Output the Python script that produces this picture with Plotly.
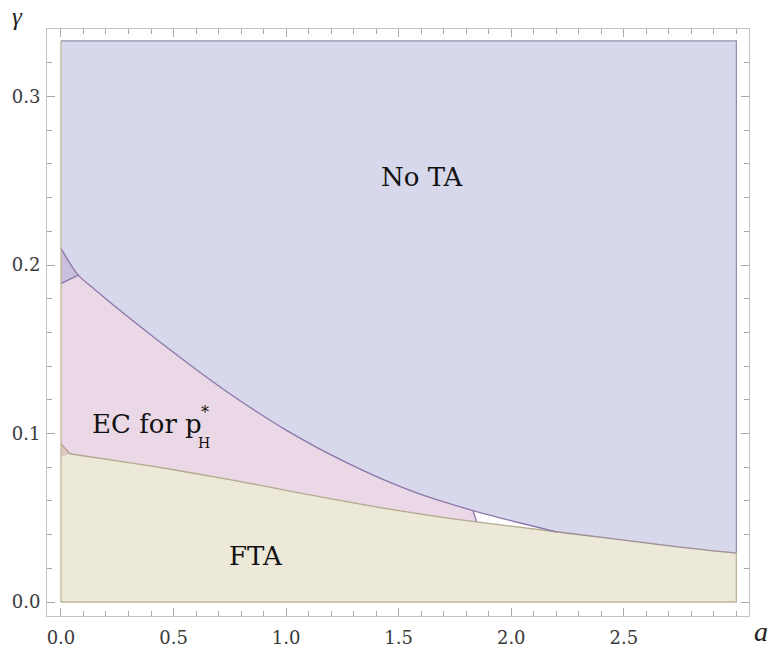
import numpy as np
import plotly.graph_objects as go

# ---- data ----
# lower boundary curve (FTA region upper edge), starting at the a = 0 corner
a_fta = [0.0, 0.04, 0.25, 0.5, 0.75, 1.0, 1.25, 1.5, 1.75, 1.846, 2.0, 2.2, 2.5, 2.75, 3.0]
g_fta = [0.086, 0.088, 0.0838, 0.0785, 0.0727, 0.0663, 0.0600, 0.0542, 0.0492, 0.0476, 0.0450, 0.0417, 0.0367, 0.0326, 0.0290]

# upper boundary curve (No TA region lower edge)
a_up = [0.0, 0.077, 0.15, 0.29, 0.44, 0.59, 0.74, 0.88, 1.0, 1.14, 1.28, 1.43, 1.58, 1.73, 1.83, 1.95, 2.05, 2.2]
g_up = [0.210, 0.194, 0.1855, 0.170, 0.1543, 0.1390, 0.1245, 0.1120, 0.1020, 0.0915, 0.0820, 0.0728, 0.0648, 0.0582, 0.0543, 0.0500, 0.0466, 0.0417]

# small corner regions at a = 0
notch_top_g = [0.210, 0.189]
notch_bot_g = [0.094, 0.086]

a_max = 3.0
g_max = 0.333
a_ec_end = 1.83      # end of EC region along upper curve
a_ec_end_low = 1.846 # end of EC region along lower curve
a_meet = 2.2         # curves merge

x_ticks = [0.0, 0.5, 1.0, 1.5, 2.0, 2.5]
x_tick_text = ["0.0", "0.5", "1.0", "1.5", "2.0", "2.5"]
y_ticks = [0.0, 0.1, 0.2, 0.3]
y_tick_text = ["0.0", "0.1", "0.2", "0.3"]

labels = ["No TA", "FTA"]

# ---- styles ----
C_NOTA = "#d7d8eb"
C_EC = "#ead8e7"
C_FTA = "#ece9d9"
C_NOTCH_TOP = "#c9bedb"
C_NOTCH_BOT = "#dcc9c2"
L_UP = "#8b76a8"
L_LOW = "#b3a98b"
L_EDGE_BLUE = "#9090b4"
L_EDGE_OLIVE = "#bfb796"
SM = 1.0

A_lo = np.array(a_fta)
G_lo = np.array(g_fta)
A_up = np.array(a_up)
G_up = np.array(g_up)

fig = go.Figure()


def trace(xs, ys, color, width=1.3, shape="spline", fill=None, fillcolor=None, opacity=1.0):
    fig.add_trace(go.Scatter(x=list(xs), y=list(ys), mode="lines",
                             line=dict(width=width, color=color, shape=shape,
                                       smoothing=SM if shape == "spline" else None),
                             fill=fill, fillcolor=fillcolor, opacity=opacity,
                             hoverinfo="skip", showlegend=False))


# FTA region: lower curve filled down to zero (left corner point on a = 0)
trace(A_lo, G_lo, "rgba(0,0,0,0)", width=0, fill="tozeroy", fillcolor=C_FTA)

# No TA region: between top edge and combined boundary
m = A_lo > a_meet
bx = list(A_up) + list(A_lo[m])
by = list(G_up) + list(G_lo[m])
trace([0.0, a_max], [g_max, g_max], "rgba(0,0,0,0)", width=0, shape="linear")
trace(bx, by, "rgba(0,0,0,0)", width=0, fill="tonexty", fillcolor=C_NOTA)

# EC region: between lower segment and upper segment
ml = A_lo <= a_ec_end_low
mu = A_up <= a_ec_end
lx = [0.0] + list(A_lo[ml][1:])
ly = [notch_bot_g[0]] + list(G_lo[ml][1:])
ux = [0.0] + list(A_up[mu][1:])
uy = [notch_top_g[1]] + list(G_up[mu][1:])
trace(lx, ly, "rgba(0,0,0,0)", width=0)
trace(ux, uy, "rgba(0,0,0,0)", width=0, fill="tonexty", fillcolor=C_EC)

# corner notches
trace([0.0, A_up[1], 0.0, 0.0], [notch_top_g[0], G_up[1], notch_top_g[1], notch_top_g[0]],
      "rgba(0,0,0,0)", width=0, shape="linear", fill="toself", fillcolor=C_NOTCH_TOP)
trace([0.0, A_lo[1], 0.0, 0.0], [notch_bot_g[0], G_lo[1], notch_bot_g[1], notch_bot_g[0]],
      "rgba(0,0,0,0)", width=0, shape="linear", fill="toself", fillcolor=C_NOTCH_BOT)

# boundary lines
trace(A_lo[1:], G_lo[1:], L_LOW)
trace(A_up, G_up, L_UP)
trace(A_lo[A_lo >= a_meet], G_lo[A_lo >= a_meet], L_UP, opacity=0.45)
trace([0.0, A_up[1]], [notch_top_g[1], G_up[1]], L_UP, shape="linear")
trace([0.0, A_lo[1]], [notch_bot_g[0], G_lo[1]], "#b89c90", shape="linear")
trace([a_ec_end, a_ec_end_low],
      [float(np.interp(a_ec_end, A_up, G_up)), float(np.interp(a_ec_end_low, A_lo, G_lo))],
      L_UP, shape="linear")
# outer edges
trace([0.0, a_max, a_max], [g_max, g_max, G_lo[-1]], L_EDGE_BLUE, shape="linear")
trace([a_max, a_max, 0.0, 0.0], [G_lo[-1], 0.0, 0.0, g_max], L_EDGE_OLIVE, shape="linear")

# ---- text ----
TXT = dict(family="DejaVu Serif", size=26, color="#111111")
fig.add_annotation(x=1.608, y=0.2525, text=labels[0], showarrow=False, font=TXT)
fig.add_annotation(x=0.865, y=0.0275, text=labels[1], showarrow=False, font=TXT)
fig.add_annotation(x=0.128, y=0.1055, text="EC for p", showarrow=False, font=TXT,
                   xanchor="left")
fig.add_annotation(x=0.637, y=0.0945, text="H", showarrow=False,
                   font=dict(family="DejaVu Serif", size=14, color="#111111"))
fig.add_annotation(x=0.640, y=0.1125, text="*", showarrow=False,
                   font=dict(family="DejaVu Serif", size=16, color="#111111"))

# axis titles (paper coordinates)
fig.add_annotation(xref="paper", yref="paper", x=-0.042, y=1.021, text="<i>γ</i>",
                   xanchor="center", yanchor="middle",
                   showarrow=False, font=dict(family="Liberation Serif", size=25, color="#222222"))
fig.add_annotation(xref="paper", yref="paper", x=1.017, y=-0.026, text="<i>a</i>",
                   xanchor="center", yanchor="middle",
                   showarrow=False, font=dict(family="Liberation Serif", size=28, color="#222222"))

AX = dict(showgrid=False, zeroline=False, showline=True, linecolor="#c4c4c4", linewidth=1,
          mirror="ticks", ticks="inside", ticklen=8, tickcolor="#a8a8a8", tickwidth=1,
          automargin=False,
          tickfont=dict(family="DejaVu Serif", size=18, color="#3a3a3a"))

fig.update_xaxes(range=[-0.062, 3.056], tickvals=x_ticks, ticktext=x_tick_text,
                 minor=dict(dtick=0.1, tick0=0.0, ticks="inside", ticklen=5,
                            tickcolor="#a8a8a8", showgrid=False),
                 ticklabelstandoff=5, **AX)
fig.update_yaxes(range=[-0.0083, 0.3401], tickvals=y_ticks, ticktext=y_tick_text,
                 minor=dict(dtick=0.02, tick0=0.0, ticks="inside", ticklen=5,
                            tickcolor="#a8a8a8", showgrid=False),
                 ticklabelstandoff=2, **AX)

fig.update_layout(width=773, height=650, margin=dict(l=47, r=24, t=29, b=34),
                  paper_bgcolor="white", plot_bgcolor="white", showlegend=False)

fig.write_html("out.html")
